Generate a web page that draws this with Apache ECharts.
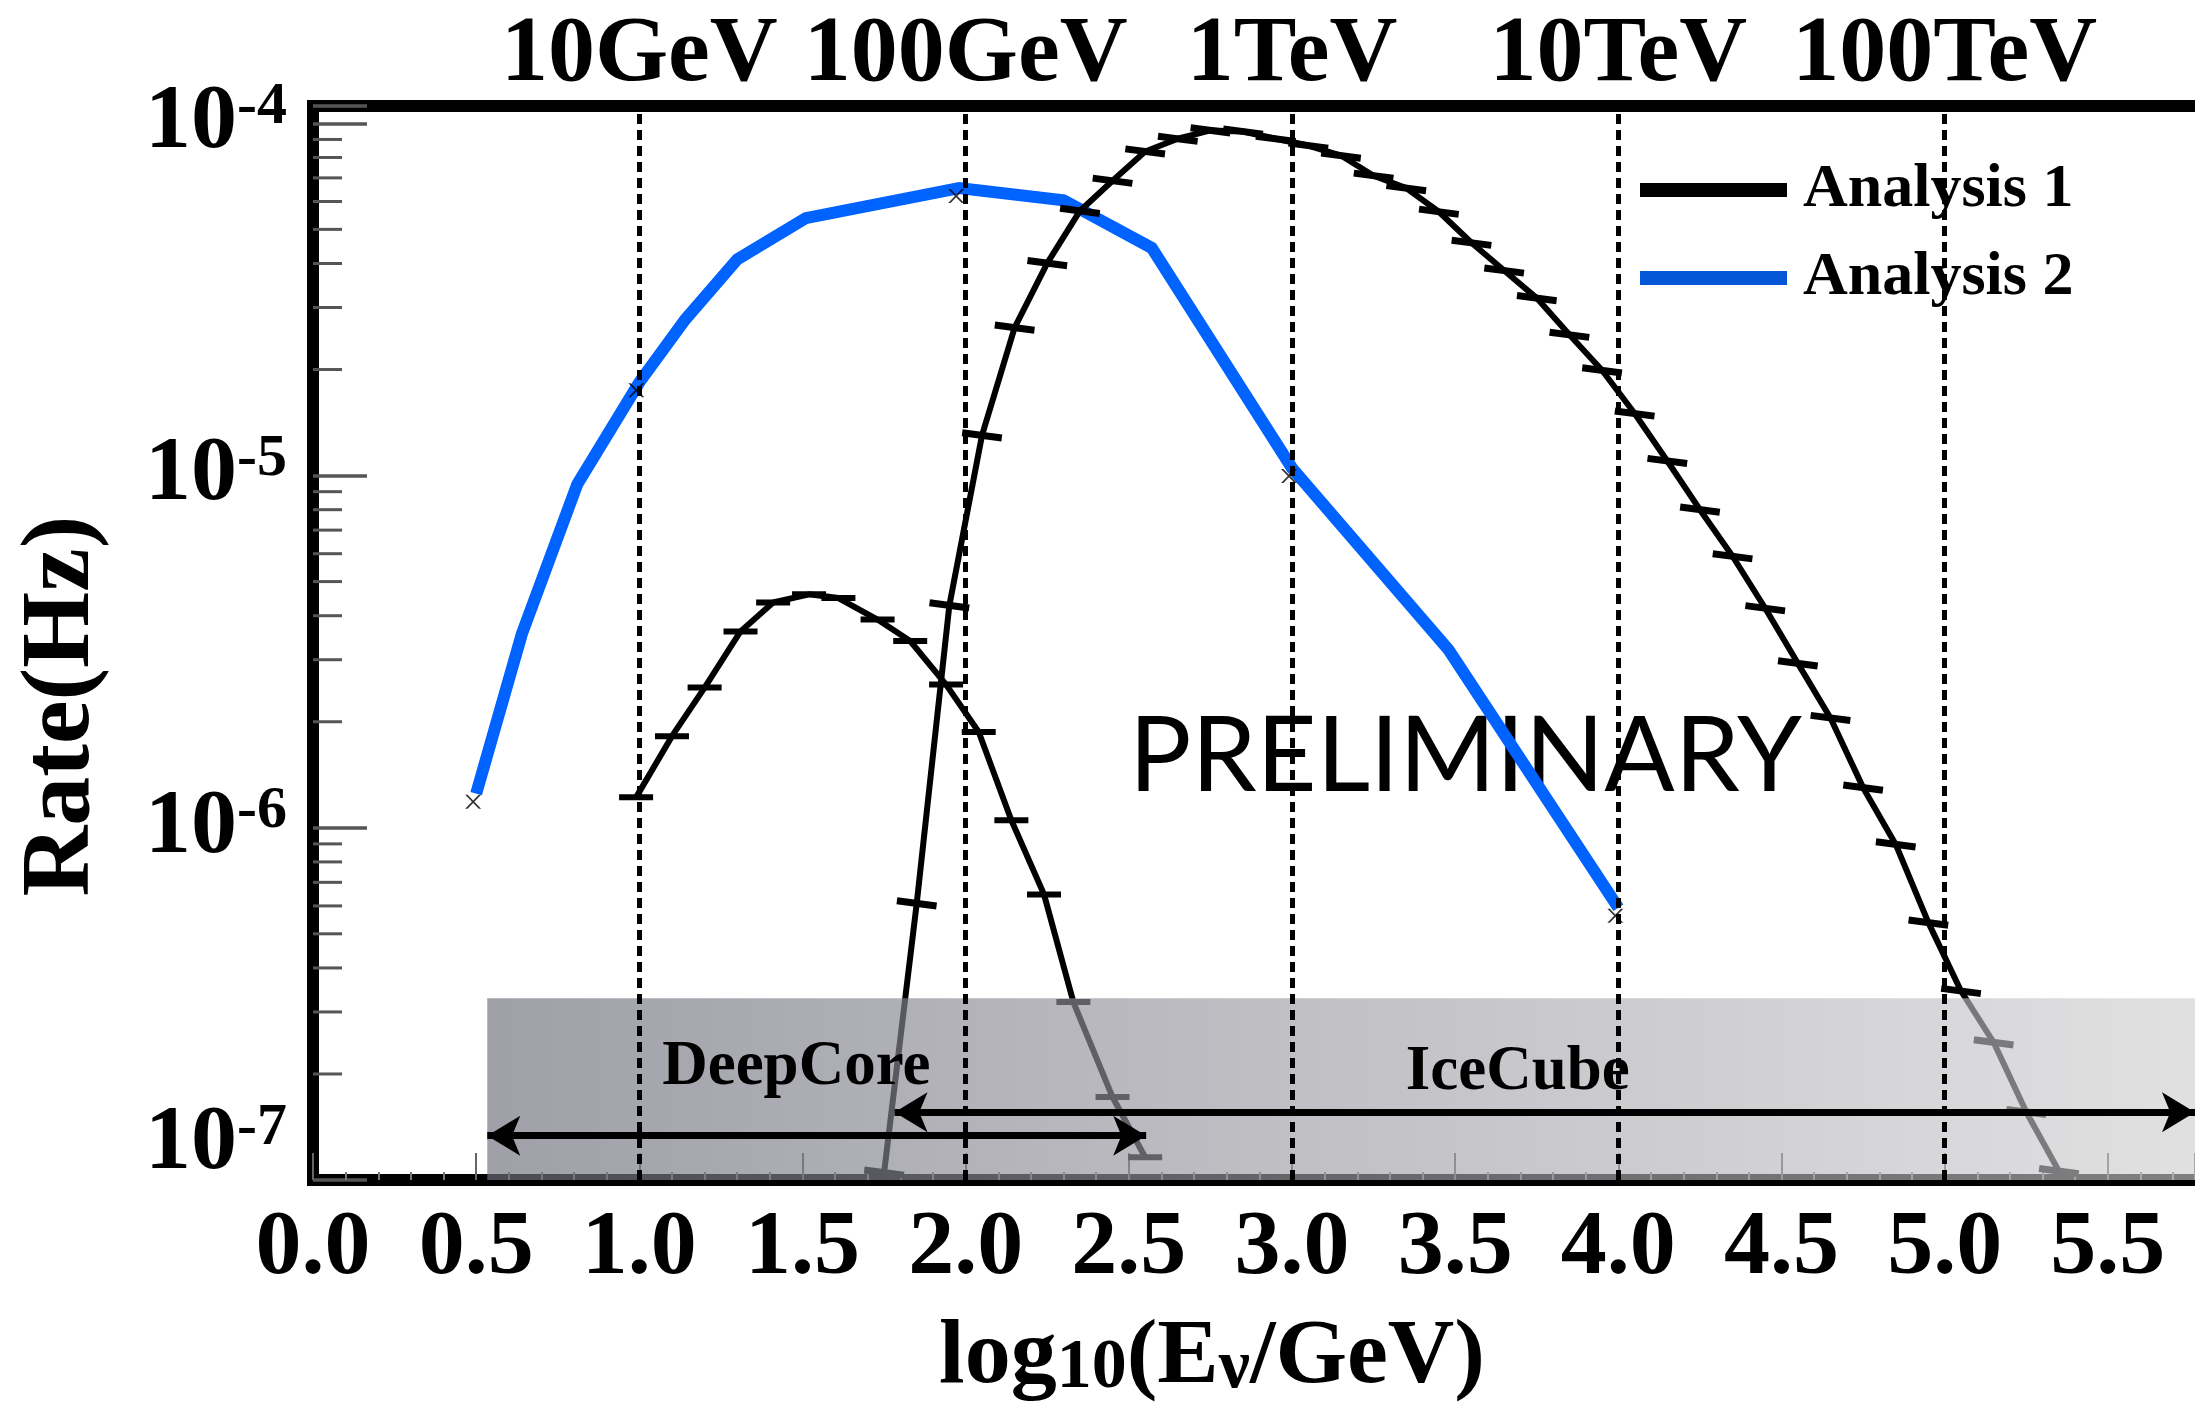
<!DOCTYPE html>
<html>
<head>
<meta charset="utf-8">
<title>Rate vs neutrino energy</title>
<script src="https://cdn.jsdelivr.net/npm/echarts@6/dist/echarts.min.js"></script>
<style>
  html, body { margin: 0; padding: 0; background: #ffffff; }
  #chart { width: 2195px; height: 1407px; }
</style>
</head>
<body>
<div id="chart"></div>
<script>
// Analysis 1, high-energy selection: bin centres in log10(E/GeV) and rate in Hz
const a1HighLogE = [1.75, 1.85, 1.95, 2.05, 2.15, 2.25, 2.35, 2.45, 2.55, 2.65, 2.75, 2.85, 2.95,
  3.05, 3.15, 3.25, 3.35, 3.45, 3.55, 3.65, 3.75, 3.85, 3.95, 4.05, 4.15, 4.25, 4.35, 4.45,
  4.55, 4.65, 4.75, 4.85, 4.95, 5.05, 5.15, 5.25, 5.35];
const a1HighRate = [1.05e-7, 6.1e-7, 4.28e-6, 1.30e-5, 2.63e-5, 4.01e-5, 5.64e-5, 6.87e-5, 8.32e-5,
  9.04e-5, 9.55e-5, 9.48e-5, 9.04e-5, 8.65e-5, 8.10e-5, 7.10e-5, 6.55e-5, 5.61e-5, 4.58e-5,
  3.82e-5, 3.19e-5, 2.51e-5, 1.99e-5, 1.50e-5, 1.10e-5, 8.0e-6, 5.9e-6, 4.2e-6, 2.93e-6,
  2.05e-6, 1.30e-6, 8.97e-7, 5.38e-7, 3.44e-7, 2.46e-7, 1.56e-7, 1.06e-7];

// Analysis 1, low-energy (DeepCore) selection
const a1LowLogE = [0.99, 1.10, 1.20, 1.31, 1.41, 1.52, 1.61, 1.73, 1.83, 1.94, 2.04, 2.14, 2.24,
  2.33, 2.45, 2.55];
const a1LowRate = [1.22e-6, 1.82e-6, 2.50e-6, 3.61e-6, 4.36e-6, 4.60e-6, 4.49e-6, 3.90e-6, 3.39e-6,
  2.55e-6, 1.87e-6, 1.05e-6, 6.47e-7, 3.2e-7, 1.72e-7, 1.16e-7];

// Analysis 2
const a2LogE = [0.50, 0.64, 0.81, 1.00, 1.14, 1.30, 1.51, 1.98, 2.30, 2.57, 3.00, 3.48, 4.00];
const a2Rate = [1.25e-6, 3.55e-6, 9.45e-6, 1.84e-5, 2.77e-5, 4.11e-5, 5.38e-5, 6.55e-5, 6.05e-5,
  4.43e-5, 1.05e-5, 3.2e-6, 5.93e-7];
// Analysis 2 points flagged with a cross
const a2CrossIndex = [0, 3, 7, 10, 12];

// decade guides and the energies they stand for
const decadeLogE = [1, 2, 3, 4, 5];
const decadeNames = ['10GeV', '100GeV', '1TeV', '10TeV', '100TeV'];

// minor ticks of the logarithmic rate axis
const rateMinorTicks = [
  2e-7, 3e-7, 4e-7, 5e-7, 6e-7, 7e-7, 8e-7, 9e-7,
  2e-6, 3e-6, 4e-6, 5e-6, 6e-6, 7e-6, 8e-6, 9e-6,
  2e-5, 3e-5, 4e-5, 5e-5, 6e-5, 7e-5, 8e-5, 9e-5
];

// energy coverage of the two detector configurations
const deepCoreLogE = [0.534, 2.553];
const deepCoreRate = 1.336e-7;
const iceCubeLogE = [1.782, 5.767];
const iceCubeRate = 1.556e-7;
const coverageTopRate = 3.28e-7;
const deepCoreLabelAt = [1.481, 2.08e-7];
const iceCubeLabelAt = [3.692, 2.02e-7];

const X_MIN = 0, X_MAX = 5.767;
const Y_MIN = 1e-7, Y_MAX = 1.12e-4;

const SERIF = '"Liberation Serif", "Times New Roman", serif';
const pairs = (xs, ys) => xs.map((x, i) => [x, ys[i]]);

const chart = echarts.init(document.getElementById('chart'), null, { renderer: 'canvas' });

const option = {
  animation: false,
  backgroundColor: '#ffffff',
  grid: { left: 313, right: 0, top: 106, bottom: 227, containLabel: false, outerBoundsMode: 'none' },
  legend: {
    orient: 'vertical',
    left: 1635,
    top: 154,
    itemWidth: 147,
    itemHeight: 14,
    itemGap: 26,
    icon: 'rect',
    symbolRotate: 0,
    selectedMode: false,
    textStyle: {
      fontFamily: SERIF, fontWeight: 'bold', fontSize: 62, lineHeight: 62,
      color: '#000', padding: [0, 0, 0, 11]
    },
    data: [
      { name: 'Analysis 1', itemStyle: { color: '#000000' } },
      { name: 'Analysis 2', itemStyle: { color: '#0457D6' } }
    ]
  },
  xAxis: [
    {
      type: 'value', position: 'bottom', min: X_MIN, max: X_MAX, interval: 0.5,
      axisLine: { show: true, onZero: false, lineStyle: { color: '#000', width: 12, cap: 'square' } },
      axisTick: { show: true, inside: true, length: 27, lineStyle: { color: '#666', width: 2 } },
      minorTick: { show: true, splitNumber: 5, length: 8, lineStyle: { color: '#777', width: 2 } },
      splitLine: { show: false },
      minorSplitLine: { show: false },
      axisLabel: {
        show: true, margin: 23, color: '#000',
        fontFamily: SERIF, fontWeight: 'bold', fontSize: 92, lineHeight: 92,
        showMinLabel: true, showMaxLabel: true,
        formatter: v => (Math.abs(v * 2 - Math.round(v * 2)) < 1e-6 ? v.toFixed(1) : '')
      }
    },
    {
      type: 'value', position: 'top', min: X_MIN, max: X_MAX, interval: 1,
      axisLine: { show: true, onZero: false, lineStyle: { color: '#000', width: 12, cap: 'square' } },
      axisTick: { show: false },
      splitLine: { show: false },
      axisLabel: {
        show: true, margin: 3, color: '#000',
        fontFamily: SERIF, fontWeight: 'bold', fontSize: 94, lineHeight: 94,
        formatter: v => {
          const r = Math.round(v);
          const i = decadeLogE.indexOf(r);
          return (Math.abs(v - r) < 1e-6 && i >= 0) ? decadeNames[i] : '';
        }
      }
    }
  ],
  yAxis: {
    type: 'log', logBase: 10, min: Y_MIN, max: Y_MAX,
    axisLine: { show: true, onZero: false, lineStyle: { color: '#000', width: 12, cap: 'square' } },
    axisTick: { show: true, inside: true, length: 54, lineStyle: { color: '#555', width: 3.5 } },
    minorTick: { show: false },
    splitLine: { show: false },
    axisLabel: {
      show: true, margin: 26, color: '#000',
      formatter: v => {
        const e = Math.log10(v);
        const n = Math.round(e);
        if (Math.abs(e - n) > 1e-6) return '';
        const lead = n === -7 ? 'q' : 'p';
        return '{' + lead + '| }{b|10}{s|' + n + '}';
      },
      rich: {
        p: { fontSize: 1, lineHeight: 92 },
        q: { fontSize: 1, lineHeight: 164 },
        b: { fontFamily: SERIF, fontWeight: 'bold', fontSize: 92, lineHeight: 92, verticalAlign: 'top', color: '#000' },
        s: { fontFamily: SERIF, fontWeight: 'bold', fontSize: 60, lineHeight: 55, verticalAlign: 'top', color: '#000' }
      }
    }
  },
  graphic: {
    elements: [
      {
        type: 'text', x: 63, y: 706, rotation: Math.PI / 2, z: 1,
        style: {
          text: 'Rate(Hz)', fill: '#000',
          fontFamily: SERIF, fontWeight: 'bold', fontSize: 98,
          align: 'center', verticalAlign: 'middle'
        }
      },
      {
        type: 'text', x: 1212, y: 1358, z: 1,
        style: {
          text: '{m|log}{s|10}{m|(E}{s|ν}{m|/GeV)}',
          align: 'center', verticalAlign: 'middle', fill: '#000',
          rich: {
            m: { fontFamily: SERIF, fontWeight: 'bold', fontSize: 92, lineHeight: 92, fill: '#000' },
            s: { fontFamily: SERIF, fontWeight: 'bold', fontSize: 70, lineHeight: 57, verticalAlign: 'bottom', fill: '#000' }
          }
        }
      },
      {
        type: 'text', x: 1129, y: 757, z: 1,
        style: {
          text: 'PRELIMINARY', fill: '#000',
          fontFamily: 'Lato, "Noto Sans", sans-serif', fontWeight: 'normal', fontSize: 104,
          align: 'left', verticalAlign: 'middle'
        }
      }
    ]
  },
  series: [
    {
      name: 'Analysis 2', type: 'line', z: 2, silent: true, clip: true,
      data: pairs(a2LogE, a2Rate),
      symbol: 'none',
      lineStyle: { color: '#0062FF', width: 12, join: 'miter' },
      itemStyle: { color: '#0062FF' }
    },
    {
      name: 'Analysis 1', type: 'line', z: 2, silent: true, clip: true,
      data: pairs(a1HighLogE, a1HighRate),
      symbol: 'rect', symbolSize: [40, 7], symbolRotate: -7.5,
      showSymbol: true, showAllSymbol: true,
      lineStyle: { color: '#000', width: 6 },
      itemStyle: { color: '#000' }
    },
    {
      name: 'Analysis 1', type: 'line', z: 2, silent: true, clip: true,
      data: pairs(a1LowLogE, a1LowRate),
      symbol: 'rect', symbolSize: [34, 6], symbolRotate: 0,
      showSymbol: true, showAllSymbol: true,
      lineStyle: { color: '#000', width: 6 },
      itemStyle: { color: '#000' }
    },
    {
      name: 'Analysis 2 points', type: 'scatter', z: 3, silent: true,
      data: a2CrossIndex.map(i => [a2LogE[i], a2Rate[i]]),
      symbol: 'path://M0,0 L3,0 L10,7 L17,0 L20,0 L11.5,8.5 L20,17 L17,17 L10,10 L3,17 L0,17 L8.5,8.5 Z',
      symbolSize: [16, 14], symbolOffset: [-3, 8],
      itemStyle: { color: '#000' }
    },
    {
      name: 'rate minor ticks', type: 'custom', z: 3, silent: true, clip: false,
      coordinateSystem: 'cartesian2d',
      data: rateMinorTicks.map(v => [X_MIN, v]),
      renderItem: (params, api) => {
        const p = api.coord([api.value(0), api.value(1)]);
        return {
          type: 'line',
          shape: { x1: p[0], y1: p[1], x2: p[0] + 29, y2: p[1] },
          style: { stroke: '#555', lineWidth: 3 }
        };
      }
    },
    {
      name: 'coverage', type: 'line', z: 4, silent: true, data: [],
      markArea: {
        silent: true, z: 4,
        itemStyle: {
          color: new echarts.graphic.LinearGradient(0, 0, 1, 0, [
            { offset: 0, color: 'rgba(112,113,125,0.67)' },
            { offset: 1, color: 'rgba(206,206,208,0.62)' }
          ])
        },
        label: { show: false },
        data: [[
          { xAxis: deepCoreLogE[0], yAxis: Y_MIN },
          { xAxis: X_MAX, yAxis: coverageTopRate }
        ]]
      }
    },
    {
      name: 'decades', type: 'line', z: 6, silent: true, data: [],
      markLine: {
        silent: true, z: 6, symbol: ['none', 'none'],
        label: { show: false },
        lineStyle: { color: '#000', width: 5, type: [10, 6] },
        emphasis: { disabled: true },
        data: decadeLogE.map(v => ({ xAxis: v }))
      }
    },
    {
      name: 'ranges', type: 'line', z: 6, silent: true, data: [],
      markLine: {
        silent: true, z: 6, symbol: ['arrow', 'arrow'], symbolSize: [30, 33],
        label: { show: false },
        lineStyle: { color: '#000', width: 7, type: 'solid' },
        emphasis: { disabled: true },
        data: [
          [{ coord: [deepCoreLogE[0], deepCoreRate] }, { coord: [deepCoreLogE[1], deepCoreRate] }],
          [{ coord: [iceCubeLogE[0], iceCubeRate] }, { coord: [iceCubeLogE[1], iceCubeRate] }]
        ]
      },
      markPoint: {
        silent: true, z: 7, symbol: 'circle', symbolSize: 1,
        itemStyle: { color: 'rgba(0,0,0,0)' },
        label: {
          show: true, position: 'inside', formatter: p => p.name, color: '#000',
          fontFamily: SERIF, fontWeight: 'bold', fontSize: 63
        },
        data: [
          { name: 'DeepCore', coord: deepCoreLabelAt },
          { name: 'IceCube', coord: iceCubeLabelAt }
        ]
      }
    }
  ]
};

chart.setOption(option);
</script>
</body>
</html>
